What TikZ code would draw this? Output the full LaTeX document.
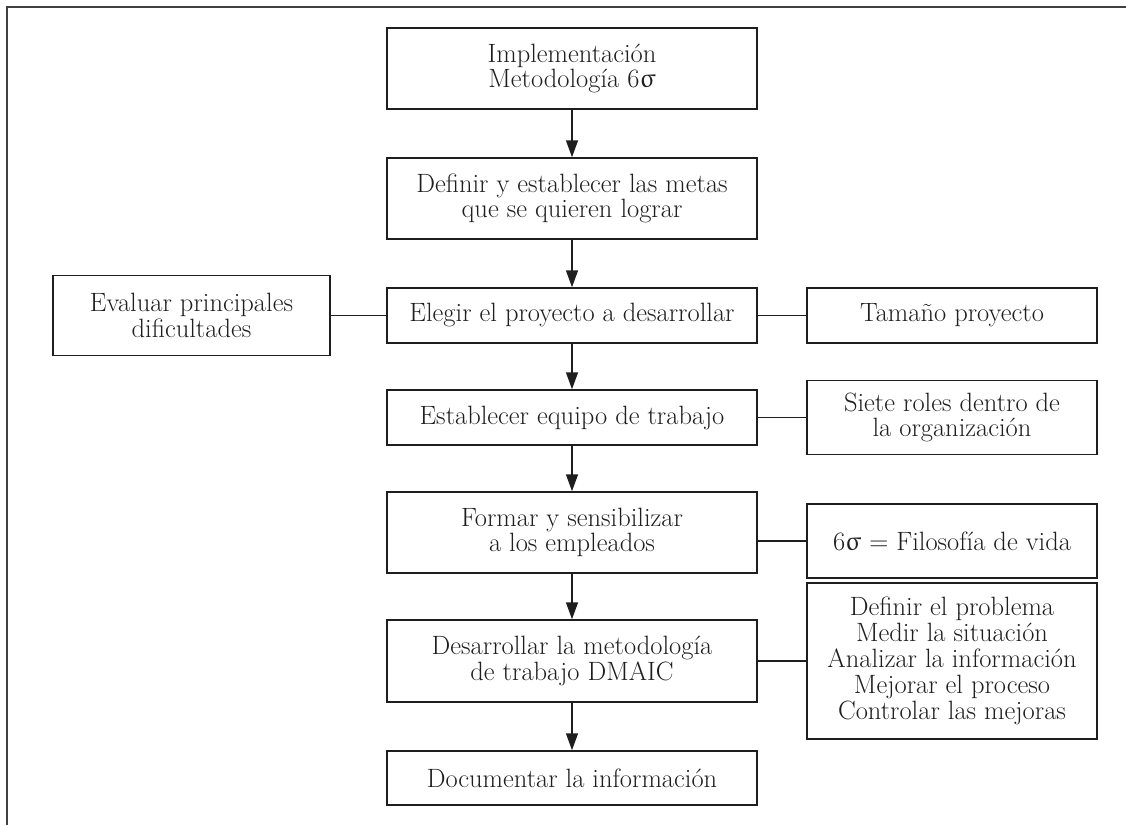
\documentclass[tikz,border=0pt]{standalone}
\usepackage{upgreek}
\usetikzlibrary{arrows.meta}
\definecolor{ink}{HTML}{1E1E1E}
\definecolor{framec}{HTML}{404040}
\newcommand{\sixsig}{6$\upsigma$}
\begin{document}
\begin{tikzpicture}[x=1pt,y=-1pt,
  box/.style={draw=ink, line width=1.5pt, align=center, inner sep=0pt,
    font=\fontsize{26.5}{25.5}\selectfont, text=ink},
  mainbox/.style={box, minimum width=370pt},
  sidebox/.style={box, minimum width=290pt},
  arr/.style={draw=ink, line width=1.5pt, -{Triangle[length=17pt,width=12pt]}},
  link/.style={draw=ink, line width=1.5pt}]
\useasboundingbox (0,0) rectangle (1126,825);
% frame
\draw[framec, line width=2.2pt] (7,825) -- (7,7) -- (1126,7);
% main column
\node[mainbox, minimum height=81pt] (b1) at (572,68.5) {Implementación\\Metodología \sixsig};
\node[mainbox, minimum height=81pt] (b2) at (572,198.5) {Definir y establecer las metas\\que se quieren lograr};
\node[mainbox, minimum height=55pt] (b3) at (572,315.5) {Elegir el proyecto a desarrollar};
\node[mainbox, minimum height=55pt] (b4) at (572,417.5) {Establecer equipo de trabajo};
\node[mainbox, minimum height=81pt] (b5) at (572,532.5) {Formar y sensibilizar\\a los empleados};
\node[mainbox, minimum height=82pt] (b6) at (572,661) {Desarrollar la metodología\\de trabajo DMAIC};
\node[mainbox, minimum height=54pt] (b7) at (572,778) {Documentar la información};
% side boxes
\node[box, minimum width=277pt, minimum height=80pt] (l3) at (191.5,315.5) {Evaluar principales\\dificultades};
\node[sidebox, minimum height=55pt] (r3) at (952,315.5) {Tamaño proyecto};
\node[sidebox, minimum height=74pt] (r4) at (952,417.5) {Siete roles dentro de\\la organización};
\node[sidebox, minimum height=74pt] (r5) at (952,541) {\sixsig{} = Filosofía de vida};
\node[sidebox, minimum height=156pt, font=\fontsize{26.5}{26}\selectfont] (r6) at (952,661) {Definir el problema\\Medir la situación\\Analizar la información\\Mejorar el proceso\\Controlar las mejoras};
% arrows
\draw[arr] (b1) -- (b2);
\draw[arr] (b2) -- (b3);
\draw[arr] (b3) -- (b4);
\draw[arr] (b4) -- (b5);
\draw[arr] (b5) -- (b6);
\draw[arr] (b6) -- (b7);
% side links
\draw[link] (l3.east) -- (b3.west);
\draw[link] (b3.east) -- (r3.west);
\draw[link] (b4.east) -- (r4.west);
\draw[link] (b5.east |- r5.west) -- (r5.west);
\draw[link] (b6.east) -- (r6.west);
\end{tikzpicture}
\end{document}
